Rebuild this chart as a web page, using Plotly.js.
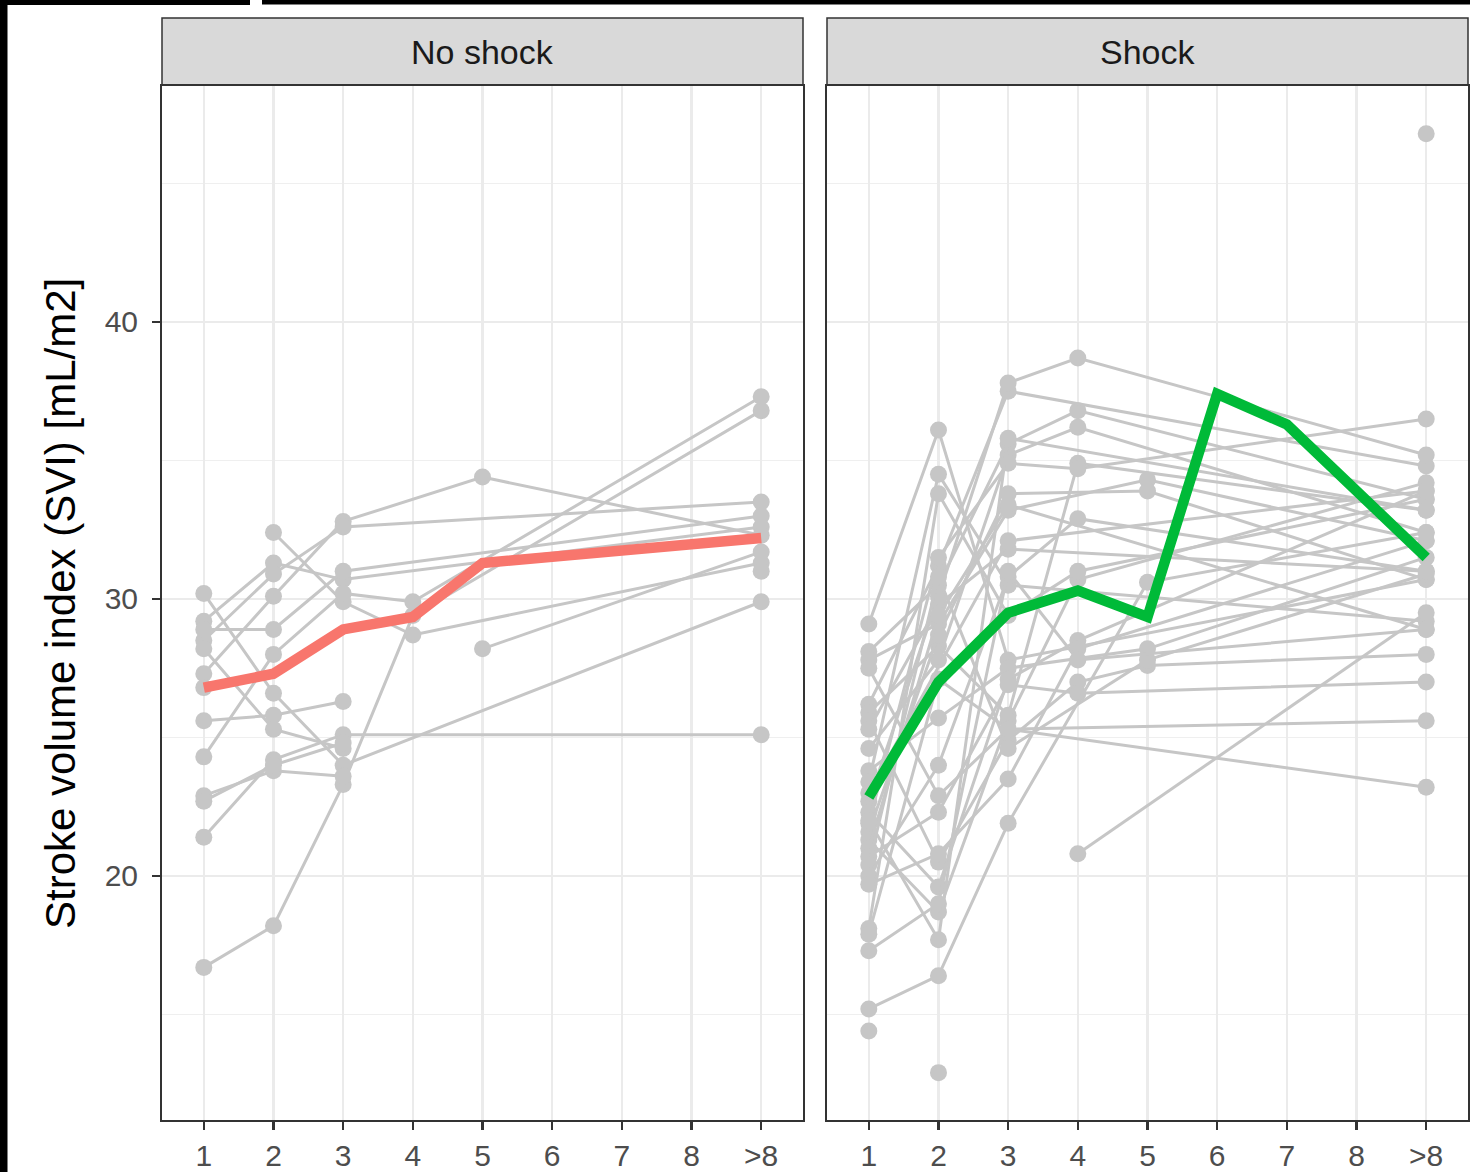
<!DOCTYPE html>
<html>
<head>
<meta charset="utf-8">
<script src="https://cdn.plot.ly/plotly-3.0.1.min.js"></script>
<style>
  html, body { margin: 0; padding: 0; background: #ffffff; }
  #chart { width: 1470px; height: 1172px; }
</style>
</head>
<body>
<div id="chart"></div>
<script>
// ---------------- DATA ----------------
const n = null;
const visits = ['1', '2', '3', '4', '5', '6', '7', '8', '>8'];
const panelLabels = ['No shock', 'Shock'];
const yTickValues = [20, 30, 40];
const yAxisTitle = 'Stroke volume index (SVI) [mL/m2]';

// Individual patients, No shock group (values per visit 1..8, >8)
const noShock01 = [16.7, 18.2, 23.3, 29.4, n, n, n, n, 36.8];
const noShock02 = [30.2, 26.6, 24.0, n, n, n, n, n, 29.9];
const noShock03 = [29.2, 31.3, 30.7, n, n, n, n, n, 32.6];
const noShock04 = [n, 32.4, 29.9, 28.7, n, n, n, n, 31.3];
const noShock05 = [27.3, 30.1, 32.8, n, 34.4, n, n, n, 32.3];
const noShock06 = [28.5, 30.9, 32.6, n, n, n, n, n, 33.5];
const noShock07 = [28.9, 28.9, 31.0, n, n, n, n, n, 33.0];
const noShock08 = [24.3, 28.0, 30.2, 29.9, n, n, n, n, 37.3];
const noShock09 = [25.6, 25.8, 26.3, n, n, n, n, n, n];
const noShock10 = [28.2, 25.3, 24.6, n, n, n, n, n, n];
const noShock11 = [22.9, 23.8, 23.6, n, n, n, n, n, n];
const noShock12 = [21.4, 24.2, 25.1, n, n, n, n, n, 25.1];
const noShock13 = [22.7, 24.0, 24.8, n, n, n, n, n, n];
const noShock14 = [26.8, n, n, n, n, n, n, n, n];
const noShock15 = [n, n, n, n, 28.2, n, n, n, 31.7];
const noShock16 = [n, n, n, n, n, n, n, n, 31.0];
const noShockPatients = [noShock01, noShock02, noShock03, noShock04, noShock05, noShock06,
  noShock07, noShock08, noShock09, noShock10, noShock11, noShock12, noShock13, noShock14,
  noShock15, noShock16];
const noShockMean = [26.8, 27.3, 28.9, 29.35, 31.3, n, n, n, 32.2];

// Individual patients, Shock group
const shock01 = [29.1, 36.1, 27.8, n, n, n, n, n, 30.7];
const shock02 = [28.1, 30.5, 35.6, 36.8, n, n, n, n, 33.6];
const shock03 = [27.8, 29.1, 33.2, n, 34.3, n, n, n, 32.1];
const shock04 = [27.5, 22.9, 25.3, n, n, n, n, n, 23.2];
const shock05 = [26.2, 31.2, 37.5, n, n, n, n, n, 34.8];
const shock06 = [25.9, 28.3, 25.8, 34.9, n, n, n, n, 33.2];
const shock07 = [25.6, 20.5, 24.9, 27.0, 27.6, n, n, n, 28.0];
const shock08 = [25.3, 29.8, 31.8, n, n, n, n, n, 31.0];
const shock09 = [24.6, 27.8, 35.2, 36.2, n, n, n, n, 32.4];
const shock10 = [23.8, 25.7, 27.5, n, 28.2, n, n, n, 31.5];
const shock11 = [23.4, 34.5, 30.5, n, n, n, n, n, 29.2];
const shock12 = [22.7, 30.1, 37.8, 38.7, n, n, n, n, 35.2];
const shock13 = [22.3, 19.6, 27.1, 28.5, n, n, n, n, 33.9];
const shock14 = [21.9, 31.5, 34.9, 34.7, n, n, n, n, 36.5];
const shock15 = [21.6, 28.7, 33.8, n, 33.9, n, n, n, 30.7];
const shock16 = [21.3, 18.7, 25.6, 30.7, n, n, n, n, 34.2];
const shock17 = [21.0, 29.4, 33.4, n, n, n, n, n, 28.9];
const shock18 = [20.7, 22.3, 26.9, 26.6, n, n, n, n, 27.0];
const shock19 = [20.4, 30.8, 24.6, n, 27.8, n, n, n, 30.9];
const shock20 = [20.0, 24.0, 30.8, 32.9, n, n, n, n, 31.0];
const shock21 = [19.7, 20.8, 23.5, 28.2, n, n, n, n, 32.1];
const shock22 = [18.1, 33.8, 29.4, 31.0, n, n, n, n, 33.6];
const shock23 = [17.9, 27.1, 25.3, n, n, n, n, n, 25.6];
const shock24 = [17.3, 19.0, 31.0, 27.8, n, n, n, n, 28.9];
const shock25 = [15.2, 16.4, 21.9, n, 30.6, n, n, n, 32.4];
const shock26 = [n, n, n, 20.8, n, n, n, n, 29.5];
const shock27 = [14.4, n, n, n, n, n, n, n, n];
const shock28 = [n, 12.9, n, n, n, n, n, n, n];
const shock29 = [22.0, 17.7, 35.8, n, n, n, n, n, 33.2];
const shock30 = [23.0, n, 32.1, n, n, n, n, n, 33.9];
const shock31 = [n, n, n, n, n, n, n, n, 46.8];
const shockPatients = [shock01, shock02, shock03, shock04, shock05, shock06, shock07, shock08,
  shock09, shock10, shock11, shock12, shock13, shock14, shock15, shock16, shock17, shock18,
  shock19, shock20, shock21, shock22, shock23, shock24, shock25, shock26, shock27, shock28,
  shock29, shock30, shock31];
const shockMean = [22.85, 27.0, 29.5, 30.3, 29.35, 37.4, 36.3, n, 31.5];

// ---------------- STYLE / LAYOUT ----------------
const W = 1470, H = 1172;
const px = v => v / W;
const py = v => (H - v) / H;
const FONT = 'Liberation Sans, Arial, Helvetica, sans-serif';
const GREY = '#C6C6C6';

const traces = [];
function addPatients(list, xa, ya) {
  list.forEach(vals => {
    traces.push({
      type: 'scatter', mode: 'lines+markers', x: visits, y: vals,
      xaxis: xa, yaxis: ya, connectgaps: true,
      line: { color: GREY, width: 3 },
      marker: { color: GREY, size: 17 },
      hoverinfo: 'skip', showlegend: false
    });
  });
}
addPatients(noShockPatients, 'x', 'y');
addPatients(shockPatients, 'x2', 'y2');
traces.push({ type: 'scatter', mode: 'lines', x: visits, y: noShockMean, xaxis: 'x', yaxis: 'y',
  connectgaps: true, line: { color: '#F8766D', width: 10.5 }, showlegend: false, hoverinfo: 'skip' });
traces.push({ type: 'scatter', mode: 'lines', x: visits, y: shockMean, xaxis: 'x2', yaxis: 'y2',
  connectgaps: true, line: { color: '#00BA38', width: 10.5 }, showlegend: false, hoverinfo: 'skip' });

const yRange = [11.19, 48.52];
function xAxis(domain) {
  return {
    type: 'category', categoryorder: 'array', categoryarray: visits,
    domain: domain, range: [-0.6, 8.6],
    showgrid: true, gridcolor: '#EBEBEB', gridwidth: 2.2,
    showline: true, mirror: true, linecolor: '#333333', linewidth: 2,
    ticks: 'outside', ticklen: 8, tickwidth: 2.5, tickcolor: '#333333',
    tickfont: { family: FONT, size: 30, color: '#4D4D4D' },
    zeroline: false, fixedrange: true
  };
}
function yAxis(showLabels) {
  return {
    domain: [py(1120), py(86)], range: yRange,
    tickvals: yTickValues, ticktext: yTickValues.map(String),
    showgrid: true, gridcolor: '#EBEBEB', gridwidth: 2.2,
    minor: { tickvals: [15, 25, 35, 45], showgrid: true, gridcolor: '#EFEFEF', gridwidth: 1.3, ticks: '' },
    showline: true, mirror: true, linecolor: '#333333', linewidth: 2,
    ticks: showLabels ? 'outside' : '', ticklen: 8, tickwidth: 2.5, tickcolor: '#333333',
    showticklabels: showLabels, ticklabelstandoff: 8,
    tickfont: { family: FONT, size: 30, color: '#4D4D4D' },
    zeroline: false, fixedrange: true
  };
}
const xa1 = xAxis([px(162), px(803)]); xa1.anchor = 'y';
const xa2 = xAxis([px(827), px(1468)]); xa2.anchor = 'y2';
const ya1 = yAxis(true); ya1.anchor = 'x';
const ya2 = yAxis(false); ya2.anchor = 'x2';

const shapes = [
  // strips
  { type: 'rect', xref: 'paper', yref: 'paper', x0: px(162), x1: px(803), y0: py(85), y1: py(18),
    fillcolor: '#D9D9D9', line: { color: '#333333', width: 1.5 }, layer: 'below' },
  { type: 'rect', xref: 'paper', yref: 'paper', x0: px(827), x1: px(1468), y0: py(85), y1: py(18),
    fillcolor: '#D9D9D9', line: { color: '#333333', width: 1.5 }, layer: 'below' },
  // black frame pieces of the image
  { type: 'rect', xref: 'paper', yref: 'paper', x0: 0, x1: px(7.5), y0: 0, y1: 1,
    fillcolor: '#000000', line: { width: 0 } },
  { type: 'rect', xref: 'paper', yref: 'paper', x0: 0, x1: px(250), y0: py(5), y1: 1,
    fillcolor: '#000000', line: { width: 0 } },
  { type: 'rect', xref: 'paper', yref: 'paper', x0: px(262), x1: 1, y0: py(4.5), y1: 1,
    fillcolor: '#000000', line: { width: 0 } }
];

const annotations = [
  { text: panelLabels[0], xref: 'paper', yref: 'paper', x: px(482.5), y: py(52), xanchor: 'center', yanchor: 'middle',
    showarrow: false, font: { family: FONT, size: 34, color: '#1A1A1A' } },
  { text: panelLabels[1], xref: 'paper', yref: 'paper', x: px(1147.5), y: py(52), xanchor: 'center', yanchor: 'middle',
    showarrow: false, font: { family: FONT, size: 34, color: '#1A1A1A' } },
  { text: yAxisTitle, xref: 'paper', yref: 'paper', x: px(60), y: py(604), xanchor: 'center', yanchor: 'middle',
    textangle: -90, showarrow: false, font: { family: FONT, size: 42, color: '#000000' } }
];

const layout = {
  width: W, height: H,
  margin: { l: 0, r: 0, t: 0, b: 0, pad: 0 },
  paper_bgcolor: '#FFFFFF', plot_bgcolor: '#FFFFFF',
  showlegend: false, hovermode: false,
  xaxis: xa1, yaxis: ya1, xaxis2: xa2, yaxis2: ya2,
  shapes: shapes, annotations: annotations
};

Plotly.newPlot('chart', traces, layout, { staticPlot: true, displayModeBar: false });
</script>
</body>
</html>
